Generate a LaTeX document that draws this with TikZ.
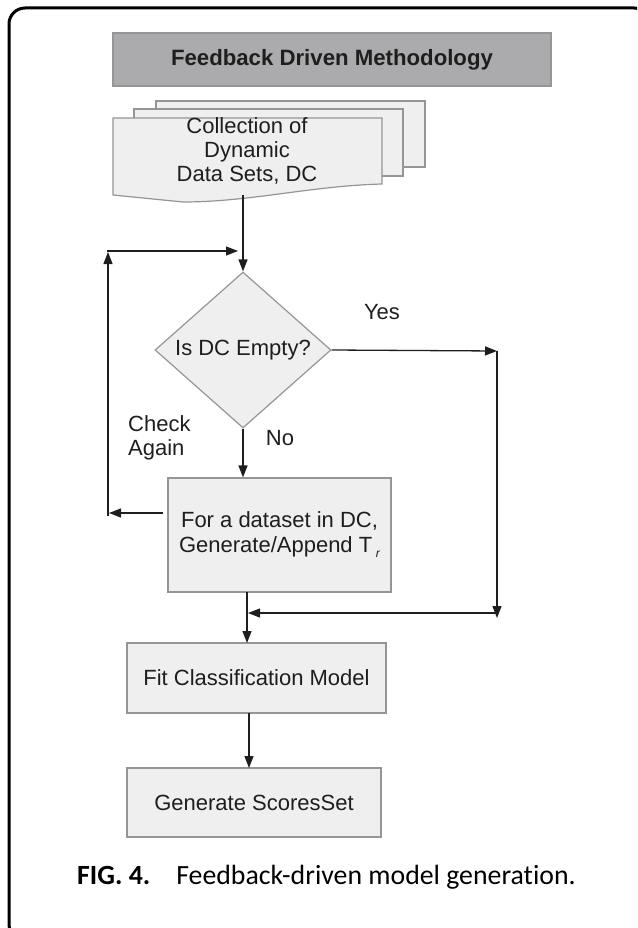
\documentclass[tikz,border=0pt]{standalone}
\usepackage{fontspec}
\setmainfont{Liberation Sans}
\newfontfamily\capfont[Ligatures={NoCommon}]{Carlito}
\usetikzlibrary{shapes.geometric,arrows.meta}
\definecolor{boxfill}{HTML}{EFEFEF}
\definecolor{boxline}{HTML}{959595}
\definecolor{titlefill}{HTML}{ABABAD}
\definecolor{ink}{HTML}{1E1E1E}
\tikzset{
  box/.style={draw=boxline, fill=boxfill, line width=1.2pt, inner sep=0pt, text=ink,
    font=\fontsize{22}{25}\selectfont, align=center},
  sheet/.style={draw=boxline, fill=boxfill, line width=1.2pt},
  conn/.style={draw=ink, line width=1.3pt},
  arr/.style={conn, -{Triangle[length=12pt,width=9pt]}},
  lbl/.style={text=ink, font=\fontsize{22}{25}\selectfont, inner sep=0pt},
}
\begin{document}
\begin{tikzpicture}[x=1pt,y=-1pt]
\useasboundingbox (0,0) rectangle (637,928);
\begin{scope}
\clip (0,0) rectangle (637,928);
\draw[line width=3pt, rounded corners=16pt] (9,8) rectangle (650,940);
\end{scope}

% title
\node[box, fill=titlefill, minimum width=438pt, minimum height=53pt,
  font=\bfseries\fontsize{22.2}{26}\selectfont] (title) at (332,59.5) {Feedback Driven Methodology};

% document stack
\draw[sheet] (156,101) rectangle (425,167);
\draw[sheet] (134,109) rectangle (403,176);
\draw[sheet] (113,118) -- (382,118) -- (382,184)
  .. controls (310,186) and (250,202) .. (183,202)
  -- (113,195) -- cycle;
\node[lbl, align=center, font=\fontsize{22}{24}\selectfont] (doc) at (247,151)
  {Collection of\\Dynamic\\Data Sets, DC};
\coordinate (docb) at (243,195);

% decision
\node[draw=boxline, fill=boxfill, line width=1.2pt, shape=diamond, inner sep=0pt,
  minimum width=176pt, minimum height=156pt, text=ink,
  font=\fontsize{22}{25}\selectfont] (dia) at (243,350) {Is DC Empty?};

% process boxes
\node[box, minimum width=223pt, minimum height=114pt] (forbox) at (279.5,535)
  {For a dataset in DC,\\Generate/Append T\,\raisebox{-5pt}{\fontsize{12}{12}\selectfont\itshape r}};
\node[box, minimum width=259pt, minimum height=70pt] (fit) at (256.5,678) {Fit Classification Model};
\node[box, minimum width=254pt, minimum height=69pt] (gen) at (254,802.5) {Generate ScoresSet};

% labels
\node[lbl] (yes) at (382,312) {Yes};
\node[lbl] (no) at (280,438) {No};
\node[lbl, anchor=west, align=left, font=\fontsize{22}{24}\selectfont] (chk) at (128,438) {Check\\Again};

% coordinates
\coordinate (yr) at (497,351);
\coordinate (yd) at (497,618);
\coordinate (ys) at (497,613);
\coordinate (mg) at (248,613);
\coordinate (fbs) at (247,592);
\coordinate (fbt) at (247,643);
\coordinate (lb) at (163,513);
\coordinate (le) at (109,513);
\coordinate (lv) at (108,516);
\coordinate (lt) at (108,251);
\coordinate (ht) at (238,251);
\coordinate (fs) at (249,713);
\coordinate (gt) at (249,768);

% connectors
\draw[arr] (docb) -- (dia.north);
\draw[arr] (dia.south) -- (dia.south |- forbox.north);
\draw[arr] (dia.east) -- (yr);
\draw[arr] (yr) -- (yd);
\draw[arr] (ys) -- (mg);
\draw[arr] (fbs) -- (fbt);
\draw[arr] (lb) -- (le);
\draw[arr] (lv) -- ([yshift=-1pt]lt);
\draw[arr] ([xshift=-0.65pt]lt) -- (ht);
\draw[arr] (fs) -- (gt);

% caption
\node[anchor=west, inner sep=0pt, text=black, font=\capfont\fontsize{27.8}{31}\selectfont] (cap) at (77,877)
  {\textbf{FIG. 4.}\hspace{26pt}Feedback-driven model generation.};
\end{tikzpicture}
\end{document}
